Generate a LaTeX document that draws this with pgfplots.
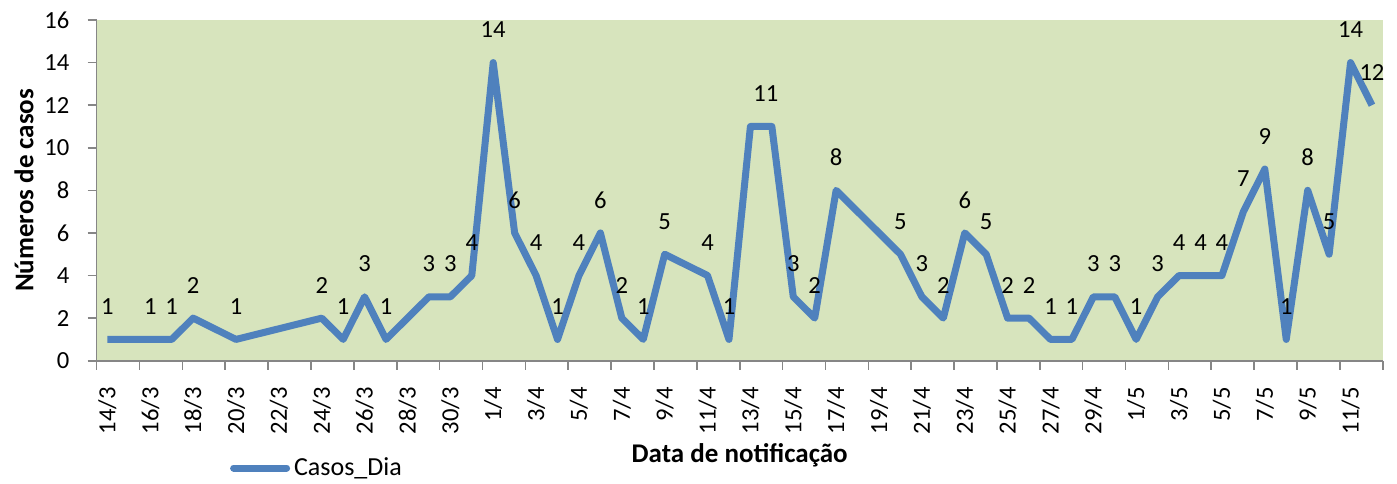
\documentclass[border=0pt]{standalone}
\usepackage{pgfplots}
\pgfplotsset{compat=1.18}
\usepackage{fontspec}
\setmainfont{Carlito}
\definecolor{bg}{HTML}{D7E4BD}
\definecolor{serie}{HTML}{4F81BD}
\definecolor{axg}{HTML}{868686}
\pgfplotstableread{
x y lab dx
0 1 1 0
2 1 1 0
3 1 1 0
4 2 2 0
6 1 1 0
10 2 2 0
11 1 1 0
12 3 3 0
13 1 1 0
15 3 3 0
16 3 3 0
17 4 4 0
18 14 14 0
19 6 6 0
20 4 4 0
21 1 1 0
22 4 4 0
23 6 6 0
24 2 2 0
25 1 1 0
26 5 5 0
28 4 4 0
29 1 1 0
30 11 {} 0
31 11 11 -3
32 3 3 0
33 2 2 0
34 8 8 0
37 5 5 0
38 3 3 0
39 2 2 0
40 6 6 0
41 5 5 0
42 2 2 0
43 2 2 0
44 1 1 0
45 1 1 0
46 3 3 0
47 3 3 0
48 1 1 0
49 3 3 0
50 4 4 0
51 4 4 0
52 4 4 0
53 7 7 0
54 9 9 0
55 1 1 0
56 8 8 0
57 5 5 0
58 14 14 0
59 12 12 0
}\casos
\begin{document}
\fontsize{12}{14}\selectfont
\begin{tikzpicture}
\useasboundingbox (-48.35pt,-61.15pt) rectangle (650.15pt,180.35pt);
\begin{axis}[
  scale only axis, width=643pt, height=170.35pt,
  at={(0,0)}, anchor=south west,
  xmin=-0.5, xmax=59.5, ymin=0, ymax=16,
  axis background/.style={fill=bg},
  axis lines*=left,
  axis line style={axg, line width=0.8pt},
  tick align=outside,
  /pgf/number format/assume math mode=true,
  ytick={0,2,...,16},
  major tick length=4.5pt,
  tick style={axg, line width=0.8pt},
  xtick={0,2,...,58},
  xticklabels={14/3,16/3,18/3,20/3,22/3,24/3,26/3,28/3,30/3,1/4,3/4,5/4,7/4,9/4,11/4,13/4,15/4,17/4,19/4,21/4,23/4,25/4,27/4,29/4,1/5,3/5,5/5,7/5,9/5,11/5},
  major x tick style={draw=none},
  minor xtick={-0.5,1.5,...,59.5},
  minor tick length=4.5pt,
  minor x tick style={draw=axg, line width=0.8pt},
  xticklabel shift=4.5pt,
  xticklabel style={rotate=90, anchor=east, font=\fontsize{12.3}{14}\selectfont, text=black},
  yticklabel style={xshift=-5pt, font=\fontsize{12.3}{14}\selectfont, text=black},
  xlabel={\bfseries Data de notificação},
  xlabel style={at={(axis description cs:0.5,0)}, anchor=center, yshift=-47.15pt, font=\fontsize{13.5}{16}\selectfont},
  ylabel={\bfseries Números de casos},
  ylabel style={at={(axis description cs:-0.0565,0.5)}, anchor=center, font=\fontsize{13.5}{16}\selectfont},
  legend style={at={(axis description cs:0,0)}, anchor=west, xshift=66.5pt, yshift=-53.65pt, draw=none, fill=none, font=\fontsize{13}{15}\selectfont, inner sep=0pt},
  legend image code/.code={\draw[#1, line width=3.5pt, line cap=round] (0pt,0pt) -- (26.5pt,0pt);},
  visualization depends on={\thisrow{dx} \as \dx},
  point meta=explicit symbolic,
  nodes near coords,
  nodes near coords style={anchor=center, yshift=16.5pt, xshift=\dx pt, text=black, font=\fontsize{12.3}{14}\selectfont},
]
\addplot[serie, line width=3.5pt, line join=round] table[x=x, y=y, meta=lab] {\casos};
\addlegendentry{Casos\_Dia}
\end{axis}
\end{tikzpicture}
\end{document}
